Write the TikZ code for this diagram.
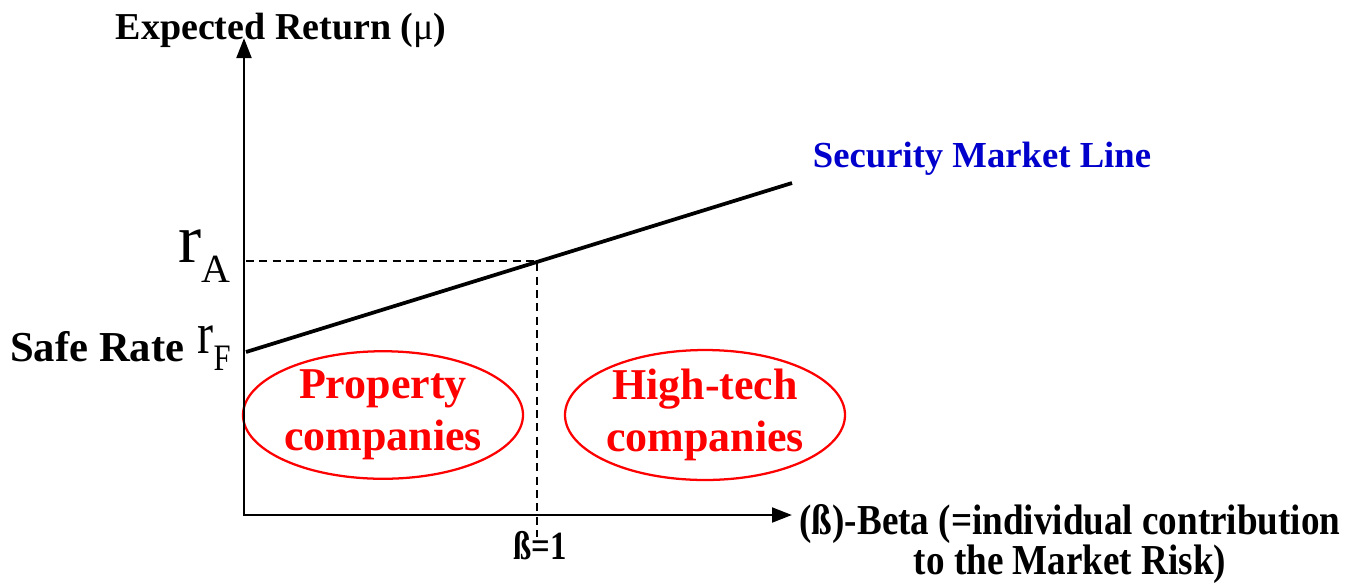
\documentclass[tikz,border=0pt]{standalone}
\usepackage{fontspec}
\setmainfont{Liberation Serif}
\newfontfamily\narrowfont[FakeStretch=0.87]{Liberation Serif}
\newfontfamily\slimfont[FakeStretch=0.82]{Liberation Serif}
\usetikzlibrary{shapes.geometric,arrows.meta}

\begin{document}
\begin{tikzpicture}[x=0.75pt, y=-0.75pt, font=\bfseries]
  \tikzstyle{axes} = [line width=2.2pt, {Triangle[length=15pt,width=11pt]}-{Triangle[length=15pt,width=11pt]}]
  \tikzstyle{sml} = [line width=2.8pt]
  \tikzstyle{guide} = [line width=0.9pt, dash pattern=on 6pt off 4pt]
  \tikzstyle{group} = [ellipse, draw=red, line width=1.7pt, text=red, align=center,
    inner sep=0pt, font=\fontsize{33}{39}\selectfont\bfseries]
  \tikzstyle{axistext} = [inner sep=0pt]
  \useasboundingbox (0,0) rectangle (1349,583);

  % Place points
  \coordinate (origin) at (244,515);
  \coordinate (ytop) at (244,38);
  \coordinate (xend) at (792,515);
  \coordinate (rf) at (246,352);
  \coordinate (smlend) at (792,183);
  \coordinate (hit) at (537,261);
  \coordinate (hity) at (246,261);
  \coordinate (hitx) at (537,537);

  % Place labels
  \node [axistext, anchor=base] (ylabel) at (281,39)
    {\fontsize{28.5}{34}\selectfont Expected Return ({\mdseries μ})};
  \node [axistext, anchor=base, text={rgb,255:red,0;green,0;blue,204}] (smllabel) at (982,167)
    {\fontsize{27.5}{33}\selectfont Security Market Line};
  \node [axistext, anchor=base east] (ra) at (231,262)
    {\mdseries\fontsize{52}{60}\selectfont r\raisebox{-15pt}{\fontsize{30}{36}\selectfont A}};
  \node [axistext, anchor=base west] (safe) at (10,361)
    {\fontsize{32}{38}\selectfont Safe Rate};
  \node [axistext, anchor=base east] (rfl) at (231,353)
    {\mdseries\slimfont\fontsize{44}{50}\selectfont r\raisebox{-13pt}{\fontsize{28}{34}\selectfont F}};
  \node [group, minimum width=203pt, minimum height=84pt] (prop) at (383,415)
    {Property\\companies};
  \node [group, minimum width=210pt, minimum height=86pt] (tech) at (705,415)
    {High-tech\\companies};
  \node [axistext, anchor=base] (beta1) at (540,559)
    {\slimfont\fontsize{30}{36}\selectfont ß=1};
  \node [axistext, anchor=north, align=center] (xlabel) at (1070,504)
    {\narrowfont\fontsize{32}{28}\selectfont (ß)-Beta (=individual contribution\\
     \narrowfont\fontsize{32}{28}\selectfont to the Market Risk)};

  % Draw lines
  \draw [axes] (ytop) -- (origin) -- (xend);
  \draw [sml] (rf) -- (smlend);
  \draw [guide] (hity) -- (hit) -- (hitx);
\end{tikzpicture}
\end{document}
